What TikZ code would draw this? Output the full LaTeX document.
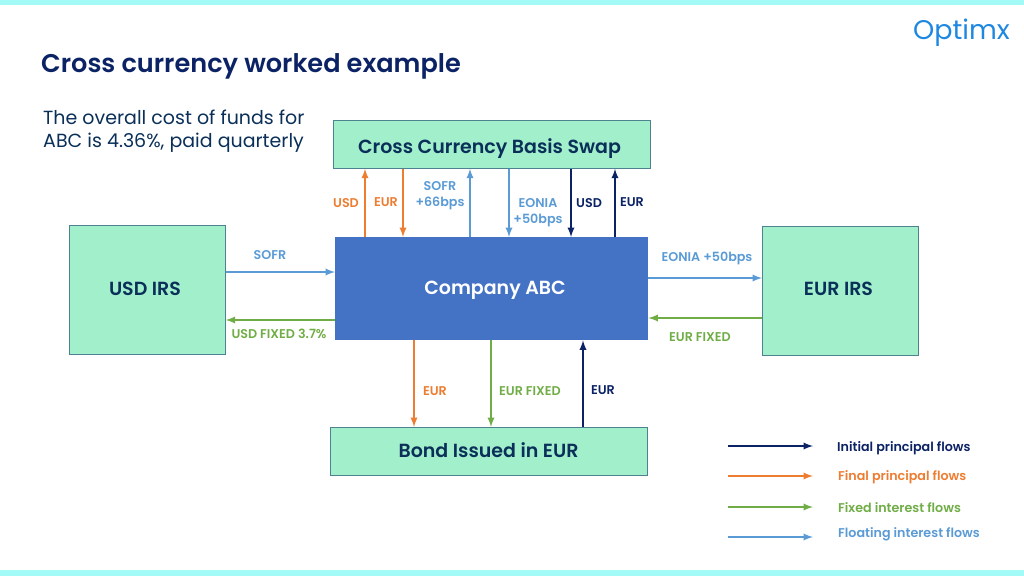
\documentclass[tikz,border=0pt]{standalone}
\usepackage{fontspec}
\setmainfont[BoldFont={Poppins SemiBold}]{Poppins}
\usetikzlibrary{arrows,positioning}
\definecolor{bandcyan}{HTML}{A4FAF6}
\definecolor{boxgreen}{HTML}{A2EFCC}
\definecolor{boxline}{HTML}{4F8291}
\definecolor{abcblue}{HTML}{4472C4}
\definecolor{navy}{HTML}{0B2265}
\definecolor{boxtext}{HTML}{0A2F58}
\definecolor{flowfinal}{HTML}{ED7D31}
\definecolor{flowfixed}{HTML}{70AD47}
\definecolor{flowfloat}{HTML}{5B9BD5}
\definecolor{logoblue}{HTML}{1E88E0}
\tikzset{
	greenbox/.style={shape=rectangle, draw=boxline, fill=boxgreen, line width=0.8pt, inner sep=0pt, anchor=north west},
	boxlab/.style={text=boxtext, font=\fontsize{19}{20}\selectfont\bfseries, inner sep=0pt},
	lab/.style={font=\fontsize{12.7}{16}\selectfont\bfseries, align=center, inner sep=0pt},
	initial/.style={->, >=latex, draw=navy, line width=2.2pt},
	final/.style={->, >=latex, draw=flowfinal, line width=2.2pt},
	fixed/.style={->, >=latex, draw=flowfixed, line width=2.2pt},
	floating/.style={->, >=latex, draw=flowfloat, line width=2.2pt},
}

\begin{document}
\begin{tikzpicture}[x=1pt, y=-1pt]
	\useasboundingbox (0,0) rectangle (1024,576);
	\fill[bandcyan] (0,0) rectangle (1024,5);
	\fill[bandcyan] (0,570) rectangle (1024,576);

	\node[anchor=west, inner sep=0pt, text=navy, font=\fontsize{25.6}{30}\selectfont\bfseries] (title) at (41, 66) {Cross currency worked example};
	\node[anchor=east, inner sep=0pt, text=logoblue, font=\fontsize{27}{30}\selectfont] (logo) at (1010, 33) {Optimx};
	\node[anchor=north west, inner sep=0pt, align=left, text=boxtext, font=\fontsize{19}{23}\selectfont] (cost) at (43, 110) {The overall cost of funds for\\ABC is 4.36\%, paid quarterly};

	\node[greenbox, minimum width=317pt, minimum height=48pt] (swap) at (333, 120) {};
	\node[boxlab] (swaplabel) at (489.5, 149) {Cross Currency Basis Swap};
	\node[greenbox, minimum width=156pt, minimum height=129pt] (usd) at (69, 225) {};
	\node[boxlab] (usdlabel) at (145, 288.5) {USD IRS};
	\node[greenbox, minimum width=156pt, minimum height=129pt] (eur) at (762, 226) {};
	\node[boxlab] (eurlabel) at (838.5, 288.5) {EUR IRS};
	\node[greenbox, minimum width=317pt, minimum height=48pt] (bond) at (330, 427) {};
	\node[boxlab] (bondlabel) at (488.5, 450) {Bond Issued in EUR};
	\node[shape=rectangle, fill=abcblue, minimum width=313pt, minimum height=103pt, inner sep=0pt, anchor=north west] (abc) at (335, 237) {};
	\node[boxlab, text=white] (abclabel) at (495, 290) {Company ABC};

	% top flows
	\draw[final] (abc.north -| 365,0) -- (swap.south -| 365,0);
	\draw[final] (swap.south -| 403,0) -- (abc.north -| 403,0);
	\draw[floating] (abc.north -| 470,0) -- (swap.south -| 470,0);
	\draw[floating] (swap.south -| 509,0) -- (abc.north -| 509,0);
	\draw[initial] (swap.south -| 571,0) -- (abc.north -| 571,0);
	\draw[initial] (abc.north -| 615,0) -- (swap.south -| 615,0);

	% side flows
	\draw[floating] (usd.east |- 0,272) -- (abc.west |- 0,272);
	\draw[fixed] (abc.west |- 0,320) -- (usd.east |- 0,320);
	\draw[floating] (abc.east |- 0,278) -- (eur.west |- 0,278);
	\draw[fixed] (eur.west |- 0,318) -- (abc.east |- 0,318);

	% bottom flows
	\draw[final] (abc.south -| 414,0) -- (bond.north -| 414,0);
	\draw[fixed] (abc.south -| 491,0) -- (bond.north -| 491,0);
	\draw[initial] (bond.north -| 583,0) -- (abc.south -| 583,0);

	\node[lab, text=flowfinal] (l1) at (346, 203.5) {USD};
	\node[lab, text=flowfinal] (l2) at (386, 202.5) {EUR};
	\node[lab, text=flowfloat] (l3) at (440, 196) {SOFR\\+66bps};
	\node[lab, text=flowfloat] (l4) at (538, 212.5) {EONIA\\+50bps};
	\node[lab, text=navy] (l5) at (589, 203.5) {USD};
	\node[lab, text=navy] (l6) at (632, 202.5) {EUR};
	\node[lab, text=flowfloat] (l7) at (270, 255) {SOFR};
	\node[lab, text=flowfixed] (l8) at (279, 334) {USD FIXED 3.7\%};
	\node[lab, text=flowfloat] (l9) at (707, 258) {EONIA +50bps};
	\node[lab, text=flowfixed] (l10) at (700, 337) {EUR FIXED};
	\node[lab, text=flowfinal] (l11) at (435, 391) {EUR};
	\node[lab, text=flowfixed] (l12) at (530, 391) {EUR FIXED};
	\node[lab, text=navy] (l13) at (603, 390) {EUR};

	% legend
	\coordinate (k1a) at (728, 446);
	\coordinate (k1b) at (813, 446);
	\coordinate (k2a) at (728, 476);
	\coordinate (k2b) at (813, 476);
	\coordinate (k3a) at (728, 507);
	\coordinate (k3b) at (813, 507);
	\coordinate (k4a) at (728, 537);
	\coordinate (k4b) at (813, 537);
	\draw[initial] (k1a) -- (k1b);
	\draw[final] (k2a) -- (k2b);
	\draw[fixed] (k3a) -- (k3b);
	\draw[floating] (k4a) -- (k4b);
	\node[lab, anchor=west, text=navy] (t1) at (837, 448) {Initial principal flows};
	\node[lab, anchor=west, text=flowfinal] (t2) at (838, 477) {Final principal flows};
	\node[lab, anchor=west, text=flowfixed] (t3) at (838, 508) {Fixed interest flows};
	\node[lab, anchor=west, text=flowfloat] (t4) at (838, 534) {Floating interest flows};
\end{tikzpicture}
\end{document}
